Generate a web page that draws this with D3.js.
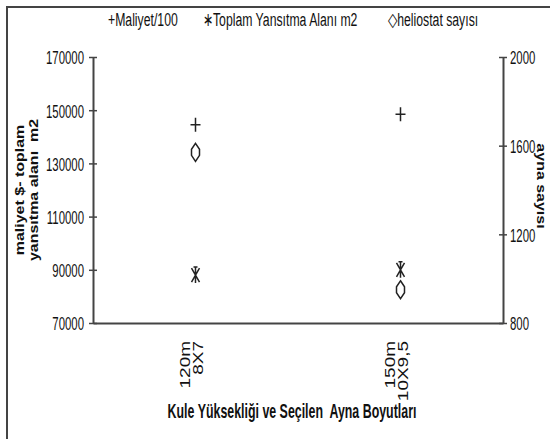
<!DOCTYPE html>
<html>
<head>
<meta charset="utf-8">
<script src="https://cdn.jsdelivr.net/npm/d3@7"></script>
<style>
  body { margin: 0; background: #fff; }
  svg { display: block; }
  text { font-family: "Liberation Sans", Arial, sans-serif; fill: #111; }
</style>
</head>
<body>
<svg width="550" height="439"></svg>
<script>
// data
const categories = ["120m|8X7", "150m|10X9,5"];
const maliyet = [144500, 148500];      // Maliyet/100 (left axis)
const toplamAlan = [88000, 90000];     // Toplam Yansıtma Alanı m2 (left axis)
const heliostat = [1570, 950];         // heliostat sayısı (right axis)
const leftTicks = [70000, 90000, 110000, 130000, 150000, 170000];
const rightTicks = [800, 1200, 1600, 2000];

const svg = d3.select("svg");
const sq = 0.6; // picture is squeezed horizontally

const plot = {left: 93, right: 503, top: 57, bottom: 323};

const x = d3.scaleBand().domain(categories).range([plot.left, plot.right]);
const yL = d3.scaleLinear().domain([70000, 170000]).range([plot.bottom, plot.top]);
const yR = d3.scaleLinear().domain([800, 2000]).range([plot.bottom, plot.top]);

// outer frame (top and left edges visible)
svg.append("path")
    .attr("d", "M7,439 V7 H550")
    .attr("fill", "none").attr("stroke", "#444").attr("stroke-width", 2);

// text helper, horizontally squeezed
function sText(px, py, str, opts) {
    opts = opts || {};
    return svg.append("text")
        .attr("transform", `translate(${px},${py}) scale(${opts.sx || sq},1)`)
        .attr("text-anchor", opts.anchor || "start")
        .attr("font-size", opts.size || 17)
        .attr("font-weight", opts.weight || "normal")
        .text(str);
}

// left axis
const axL = svg.append("g").attr("transform", `translate(${plot.left},0)`)
    .call(d3.axisLeft(yL).tickValues(leftTicks).tickSizeOuter(0).tickSizeInner(4).tickFormat(d3.format("d")));
axL.select(".domain").attr("stroke", "#444").attr("stroke-width", 2);
axL.selectAll(".tick line").attr("x1", -4).attr("x2", 4).attr("stroke", "#444").attr("stroke-width", 1.5);
axL.selectAll(".tick text")
    .attr("x", -9 / sq).attr("dy", "0.36em")
    .attr("transform", `scale(${sq},1)`)
    .attr("font-size", 19).attr("font-family", "Liberation Sans, Arial, sans-serif").attr("fill", "#111");

// right axis
const axR = svg.append("g").attr("transform", `translate(${plot.right},0)`)
    .call(d3.axisRight(yR).tickValues(rightTicks).tickSizeOuter(0).tickSizeInner(4).tickFormat(d3.format("d")));
axR.select(".domain").attr("stroke", "#444").attr("stroke-width", 2);
axR.selectAll(".tick line").attr("x1", -4).attr("x2", 4).attr("stroke", "#444").attr("stroke-width", 1.5);
axR.selectAll(".tick text")
    .attr("x", 7 / sq).attr("dy", "0.36em")
    .attr("transform", `scale(${sq},1)`)
    .attr("font-size", 19).attr("font-family", "Liberation Sans, Arial, sans-serif").attr("fill", "#111");

// bottom axis line
const axB = svg.append("g").attr("transform", `translate(0,${plot.bottom})`)
    .call(d3.axisBottom(x).tickSize(0).tickFormat(""));
axB.select(".domain").attr("stroke", "#444").attr("stroke-width", 2);

// category labels, rotated, two lines each
categories.forEach(c => {
    const cx = x(c) + x.bandwidth() / 2;
    const lines = c.split("|");
    lines.forEach((ln, i) => {
        svg.append("text")
            .attr("transform", `translate(${cx - 6 + i * 13},341) rotate(-90) scale(1,0.8)`)
            .attr("text-anchor", "end")
            .attr("font-size", 19)
            .text(ln);
    });
});

// marker shapes
const plusPath = "M0,-7 V7 M-5,0 H5";
const starPath = "M0,-8 V8 M-4,-7 L4,7 M4,-7 L-4,7 M-2,-8 H2";
const diamondPath = "M0,-9 L4,-3 L4,3 L0,9 L-4,3 L-4,-3 Z";

function drawSeries(vals, scale, path) {
    svg.append("g").selectAll("path")
        .data(vals)
        .join("path")
        .attr("transform", (d, i) => `translate(${x(categories[i]) + x.bandwidth() / 2},${scale(d)})`)
        .attr("d", path)
        .attr("fill", "none")
        .attr("stroke", "#222")
        .attr("stroke-width", 1.5);
}
drawSeries(maliyet, yL, plusPath);
drawSeries(toplamAlan, yL, starPath);
drawSeries(heliostat, yR, diamondPath);

// legend
const legend = [
    {x: 108, label: "+Maliyet/100"},
    {x: 203, label: "\u2217Toplam Yansıtma Alanı m2"},
    {x: 388, label: "\u25C7heliostat sayısı"}
];
legend.forEach(l => sText(l.x, 26, l.label, {size: 19, sx: 0.645}));

// axis titles
svg.append("text")
    .attr("transform", "translate(24,190) rotate(-90) scale(1,0.85)")
    .attr("text-anchor", "middle").attr("font-size", 16).attr("font-weight", "bold")
    .text("maliyet $- toplam");
svg.append("text")
    .attr("transform", "translate(38,190) rotate(-90) scale(1,0.85)")
    .attr("text-anchor", "middle").attr("font-size", 16).attr("font-weight", "bold")
    .attr("xml:space", "preserve")
    .text("yansıtma alanı  m2");
svg.append("text")
    .attr("transform", "translate(537,186) rotate(90) scale(1,0.85)")
    .attr("text-anchor", "middle").attr("font-size", 16).attr("font-weight", "bold")
    .text("ayna sayısı");

sText(292, 418, "Kule Yüksekliği ve Seçilen  Ayna Boyutları", {anchor: "middle", size: 20, weight: "bold", sx: 0.62})
    .attr("xml:space", "preserve");
</script>
</body>
</html>
